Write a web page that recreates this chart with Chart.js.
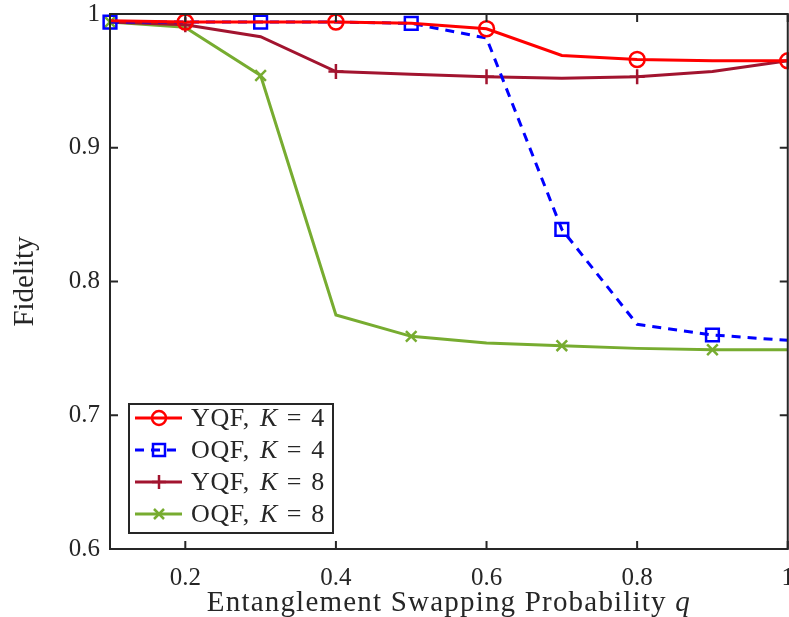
<!DOCTYPE html>
<html>
<head>
<meta charset="utf-8">
<script src="https://cdn.jsdelivr.net/npm/chart.js@4/dist/chart.umd.min.js"></script>
<style>
  html, body { margin: 0; padding: 0; background: #fff; overflow: hidden; }
  #contenedor { position: relative; width: 789px; height: 617px; overflow: hidden; }
  #grafica { display: block; position: absolute; left: 0; top: -11px; }
</style>
</head>
<body>
<div id="contenedor">
<canvas id="grafica" width="808" height="628"></canvas>
</div>
<script>
// Datos
const probQ = [0.1, 0.2, 0.3, 0.4, 0.5, 0.6, 0.7, 0.8, 0.9, 1.0];
const yqfK4 = [0.995, 0.994, 0.994, 0.994, 0.993, 0.989, 0.969, 0.966, 0.965, 0.965];
const oqfK4 = [0.994, 0.994, 0.994, 0.994, 0.993, 0.982, 0.839, 0.768, 0.760, 0.756];
const yqfK8 = [0.994, 0.992, 0.983, 0.957, 0.955, 0.953, 0.952, 0.953, 0.957, 0.965];
const oqfK8 = [0.994, 0.990, 0.954, 0.775, 0.759, 0.754, 0.752, 0.750, 0.749, 0.749];

const nombres = ["YQF", "OQF", "YQF", "OQF"];
const valoresK = ["4", "4", "8", "8"];
const marcasX = [0.2, 0.4, 0.6, 0.8, 1];
const marcasY = [0.6, 0.7, 0.8, 0.9, 1];

const FUENTE = "'Liberation Serif', 'DejaVu Serif', serif";
const NEGRO = "#262626";

// marcadores solo en puntos alternos
function radios(empiezaEnPar, r) {
    return probQ.map((_, i) => ((i % 2 === 0) === empiezaEnPar ? r : 0));
}

function serie(valores, etiqueta, color, estilo, par, extra) {
    return Object.assign({
        label: etiqueta,
        data: probQ.map((x, i) => ({ x: x, y: valores[i] })),
        borderColor: color,
        backgroundColor: "transparent",
        borderWidth: 3,
        pointStyle: estilo,
        pointRadius: radios(par, estilo === "rect" ? 9 : 7.5),
        pointHoverRadius: 0,
        pointBorderColor: color,
        pointBackgroundColor: "transparent",
        pointBorderWidth: 2.5,
        showLine: true,
        tension: 0,
        clip: false
    }, extra || {});
}

const series = [
    serie(yqfK4, "YQF, K = 4", "#ff0000", "circle", false),
    serie(oqfK4, "OQF, K = 4", "#0000ff", "rect", true, { borderDash: [9, 7] }),
    serie(yqfK8, "YQF, K = 8", "#a2142f", "cross", false),
    serie(oqfK8, "OQF, K = 8", "#77ac30", "crossRot", true)
];

// Caja y marcas hacia dentro, al estilo MATLAB
const marcoMatlab = {
    id: "marcoMatlab",
    afterDatasetsDraw(chart) {
        const { ctx, chartArea: a, scales } = chart;
        ctx.save();
        ctx.strokeStyle = NEGRO;
        ctx.lineWidth = 2;
        ctx.strokeRect(a.left, a.top, a.right - a.left, a.bottom - a.top);
        const largo = 8;
        ctx.beginPath();
        marcasX.forEach((v) => {
            const px = scales.x.getPixelForValue(v);
            ctx.moveTo(px, a.bottom); ctx.lineTo(px, a.bottom - largo);
            ctx.moveTo(px, a.top); ctx.lineTo(px, a.top + largo);
        });
        marcasY.forEach((v) => {
            const py = scales.y.getPixelForValue(v);
            ctx.moveTo(a.left, py); ctx.lineTo(a.left + largo, py);
            ctx.moveTo(a.right, py); ctx.lineTo(a.right - largo, py);
        });
        ctx.stroke();

        // titulo del eje x con la q en cursiva
        const texto = "Entanglement Swapping Probability ";
        ctx.fillStyle = NEGRO;
        ctx.textBaseline = "alphabetic";
        ctx.letterSpacing = "1.2px";
        ctx.font = "29px " + FUENTE;
        const w1 = ctx.measureText(texto).width;
        ctx.font = "italic 29px " + FUENTE;
        const w2 = ctx.measureText("q").width;
        const base = a.bottom + 62;
        let x = (a.left + a.right) / 2 - (w1 + w2) / 2;
        ctx.font = "29px " + FUENTE;
        ctx.fillText(texto, x, base);
        ctx.font = "italic 29px " + FUENTE;
        ctx.fillText("q", x + w1, base);
        ctx.restore();
    }
};

function dibujarMarca(ctx, estilo, x, y, color) {
    ctx.strokeStyle = color;
    ctx.lineWidth = 2.5;
    ctx.setLineDash([]);
    ctx.beginPath();
    if (estilo === "circle") {
        ctx.arc(x, y, 7, 0, Math.PI * 2);
    } else if (estilo === "rect") {
        ctx.rect(x - 6, y - 6, 12, 12);
    } else if (estilo === "cross") {
        ctx.moveTo(x - 7, y); ctx.lineTo(x + 7, y);
        ctx.moveTo(x, y - 7); ctx.lineTo(x, y + 7);
    } else {
        ctx.moveTo(x - 5, y - 5); ctx.lineTo(x + 5, y + 5);
        ctx.moveTo(x - 5, y + 5); ctx.lineTo(x + 5, y - 5);
    }
    ctx.stroke();
}

// Leyenda propia para poder poner la K en cursiva
const leyendaPropia = {
    id: "leyendaPropia",
    afterDraw(chart) {
        const { ctx, chartArea: a } = chart;
        const ancho = 204, alto = 129;
        const izq = a.left + 19;
        const arriba = a.bottom - 16 - alto;
        ctx.save();
        ctx.fillStyle = "#fff";
        ctx.fillRect(izq, arriba, ancho, alto);
        ctx.strokeStyle = NEGRO;
        ctx.lineWidth = 2;
        ctx.strokeRect(izq, arriba, ancho, alto);

        chart.data.datasets.forEach((ds, i) => {
            const y = arriba + 14 + i * 32;
            ctx.strokeStyle = ds.borderColor;
            ctx.lineWidth = 3;
            ctx.setLineDash(ds.borderDash || []);
            ctx.beginPath();
            ctx.moveTo(izq + 6, y);
            ctx.lineTo(izq + 53, y);
            ctx.stroke();
            dibujarMarca(ctx, ds.pointStyle, izq + 30, y, ds.borderColor);

            ctx.fillStyle = NEGRO;
            ctx.textBaseline = "middle";
            ctx.letterSpacing = "0.6px";
            let x = izq + 62;
            ctx.font = "26px " + FUENTE;
            const parte1 = nombres[i] + ", ";
            ctx.fillText(parte1, x, y + 1);
            x += ctx.measureText(parte1).width + 3;
            ctx.font = "italic 26px " + FUENTE;
            ctx.fillText("K", x, y + 1);
            x += ctx.measureText("K").width + 9;
            ctx.font = "26px " + FUENTE;
            ctx.fillText("=", x, y + 1);
            x += ctx.measureText("=").width + 9;
            ctx.fillText(valoresK[i], x, y + 1);
        });
        ctx.restore();
    }
};

const grafica = new Chart(document.getElementById("grafica"), {
    type: "scatter",
    data: { datasets: series },
    options: {
        responsive: false,
        animation: false,
        layout: { padding: { top: 4, right: 6, left: 0, bottom: 0 } },
        plugins: {
            legend: { display: false },
            tooltip: { enabled: false }
        },
        scales: {
            x: {
                type: "linear",
                min: 0.1,
                max: 1,
                afterBuildTicks: (eje) => { eje.ticks = marcasX.map((v) => ({ value: v })); },
                afterFit: (eje) => { eje.height = 68; },
                grid: { display: false, drawTicks: false },
                border: { display: false },
                ticks: {
                    color: NEGRO,
                    padding: 14,
                    font: { family: FUENTE, size: 25 },
                    callback: (v) => String(Math.round(v * 10) / 10)
                }
            },
            y: {
                min: 0.6,
                max: 1,
                afterBuildTicks: (eje) => { eje.ticks = marcasY.map((v) => ({ value: v })); },
                afterFit: (eje) => { eje.width = 110; },
                grid: { display: false, drawTicks: false },
                border: { display: false },
                ticks: {
                    color: NEGRO,
                    padding: 10,
                    font: { family: FUENTE, size: 25 },
                    callback: (v) => String(Math.round(v * 10) / 10)
                },
                title: {
                    display: true,
                    text: "Fidelity",
                    color: NEGRO,
                    font: { family: FUENTE, size: 29 },
                    padding: { top: 8, bottom: 0 }
                }
            }
        }
    },
    plugins: [marcoMatlab, leyendaPropia]
});
</script>
</body>
</html>
